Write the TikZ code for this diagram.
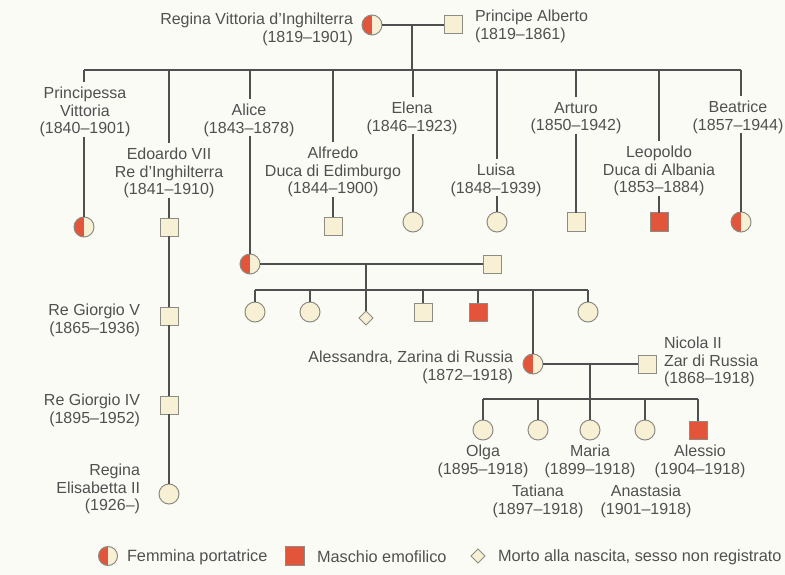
\documentclass[tikz,border=0pt]{standalone}
\usepackage{fontspec}
\setmainfont{Liberation Sans}
\usetikzlibrary{shapes.geometric}
\definecolor{bg}{HTML}{FBFBF6}
\definecolor{cream}{HTML}{F8F0D4}
\definecolor{hred}{HTML}{E3553A}
\definecolor{edgec}{HTML}{8C8C84}
\definecolor{lnc}{HTML}{4F4F4F}
\definecolor{txt}{HTML}{505050}
\begin{document}
\begin{tikzpicture}[x=1pt,y=-1pt,
  every node/.style={inner sep=0pt,outer sep=0pt},
  lbl/.style={font=\fontsize{16}{17.5}\selectfont, text=txt, align=center, anchor=north},
  lblr/.style={lbl, align=right, anchor=north east},
  lbll/.style={lbl, align=left, anchor=north west},
  legtxt/.style={font=\fontsize{16.3}{17.5}\selectfont, text=txt, anchor=west},
  fem/.style={circle, draw=edgec, line width=1pt, fill=cream, minimum size=20pt},
  mal/.style={rectangle, draw=edgec, line width=1pt, fill=cream, minimum size=18pt},
  carrier/.style={fem, path picture={\fill[hred] (path picture bounding box.south west) rectangle (path picture bounding box.north);}},
  hemo/.style={mal, fill=hred},
  still/.style={diamond, draw=edgec, line width=1pt, fill=cream, minimum size=14pt},
  link/.style={draw=lnc, line width=1.4pt},
  gapped/.style={link, shorten >=5pt},
]
\fill[bg] (0,0) rectangle (785,575);
\useasboundingbox (0,0) rectangle (785,575);

% ---- generation I
\node[carrier] (rv) at (372,25) {};
\node[mal] (pa) at (453,25) {};
\node[lblr] (lRV) at (353,13) {Regina Vittoria d'Inghilterra\\(1819–1901)};
\node[lbll] (lPA) at (475,10) {Principe Alberto\\(1819–1861)};
\draw[link] (rv) -- (pa);
\coordinate (m1) at (412,25);
\coordinate (b1) at (412,70);
\draw[link] (m1) -- (b1);
\coordinate (bL) at (84,70);
\coordinate (bR) at (741,70);
\draw[link] (bL) -- (bR);

% ---- generation II
\node[carrier] (pv) at (84,227) {};
\node[mal] (ed) at (169,227) {};
\node[carrier] (al) at (250,264) {};
\node[mal] (af) at (333,226) {};
\node[fem] (el) at (413,222) {};
\node[fem] (lu) at (497,222) {};
\node[mal] (ar) at (576,222) {};
\node[hemo] (le) at (659,222) {};
\node[carrier] (be) at (741,222) {};

\node[lbl] (lPV) at (85,87) {Principessa\\Vittoria\\(1840–1901)};
\node[lbl] (lED) at (169,148) {Edoardo VII\\Re d'Inghilterra\\(1841–1910)};
\node[lbl] (lAL) at (249,104) {Alice\\(1843–1878)};
\node[lbl] (lAF) at (333,147) {Alfredo\\Duca di Edimburgo\\(1844–1900)};
\node[lbl] (lEL) at (412,102) {Elena\\(1846–1923)};
\node[lbl] (lLU) at (496,164) {Luisa\\(1848–1939)};
\node[lbl] (lAR) at (576,102) {Arturo\\(1850–1942)};
\node[lbl] (lLE) at (659,146) {Leopoldo\\Duca di Albania\\(1853–1884)};
\node[lbl] (lBE) at (738,101) {Beatrice\\(1857–1944)};

\foreach \s/\l in {pv/lPV, ed/lED, al/lAL, af/lAF, el/lEL, lu/lLU, ar/lAR, le/lLE, be/lBE}{
  \draw[gapped] (\s |- bL) -- (\s |- \l.north);
  \draw[link] (\s |- \l.south) -- (\s);
}

% ---- British line
\node[mal] (g5) at (169,316) {};
\node[mal] (g4) at (169,405) {};
\node[fem] (eq) at (169,494) {};
\node[lblr] (lG5) at (140,304) {Re Giorgio V\\(1865–1936)};
\node[lblr] (lG4) at (140,394) {Re Giorgio IV\\(1895–1952)};
\node[lblr] (lEQ) at (140,464) {Regina\\Elisabetta II\\(1926–)};
\draw[link] (ed) -- (g5);
\draw[link] (g5) -- (g4);
\draw[link] (g4) -- (eq);

% ---- Alice's family
\node[mal] (ah) at (492,264) {};
\draw[link] (al) -- (ah);
\coordinate (m2) at (366,264);
\coordinate (b2L) at (255,290);
\coordinate (b2R) at (588,290);
\draw[link] (b2L) -- (b2R);
\node[fem] (a1) at (255,312) {};
\node[fem] (a2) at (310,312) {};
\node[still] (a3) at (366,318) {};
\node[mal] (a4) at (423,312) {};
\node[hemo] (a5) at (478,312) {};
\node[carrier] (as) at (533,364) {};
\node[fem] (a7) at (588,312) {};
\draw[link] (m2) -- (a3);
\foreach \c in {a1,a2,a4,a5,a7,as}{
  \draw[link] (\c |- b2L) -- (\c);
}
\node[lblr] (lAS) at (513,351) {Alessandra, Zarina di Russia\\(1872–1918)};

% ---- Russian family
\node[mal] (ni) at (647,364) {};
\node[lbll] (lNI) at (664,337) {Nicola II\\Zar di Russia\\(1868–1918)};
\draw[link] (as) -- (ni);
\coordinate (m3) at (590,364);
\coordinate (b3L) at (483,399);
\coordinate (b3R) at (698,399);
\draw[link] (m3) -- (m3 |- b3L);
\draw[link] (b3L) -- (b3R);
\node[fem] (ol) at (483,430) {};
\node[fem] (ta) at (538,430) {};
\node[fem] (ma) at (590,430) {};
\node[fem] (an) at (645,430) {};
\node[hemo] (ao) at (698,430) {};
\foreach \c in {ol,ta,ma,an,ao}{
  \draw[link] (\c |- b3L) -- (\c);
}
\node[lbl] (lOL) at (483,445) {Olga\\(1895–1918)};
\node[lbl] (lMA) at (590,445) {Maria\\(1899–1918)};
\node[lbl] (lAO) at (700,445) {Alessio\\(1904–1918)};
\node[lbl] (lTA) at (538,485) {Tatiana\\(1897–1918)};
\node[lbl] (lAN) at (646,485) {Anastasia\\(1901–1918)};

% ---- legend
\node[carrier, minimum size=19pt] (k1) at (108,556) {};
\node[legtxt] (t1) at (127,557) {Femmina portatrice};
\node[hemo, minimum size=19pt] (k2) at (295,556) {};
\node[legtxt] (t2) at (317,557) {Maschio emofilico};
\node[still] (k3) at (478,556) {};
\node[legtxt] (t3) at (498,557) {Morto alla nascita, sesso non registrato};
\end{tikzpicture}
\end{document}
